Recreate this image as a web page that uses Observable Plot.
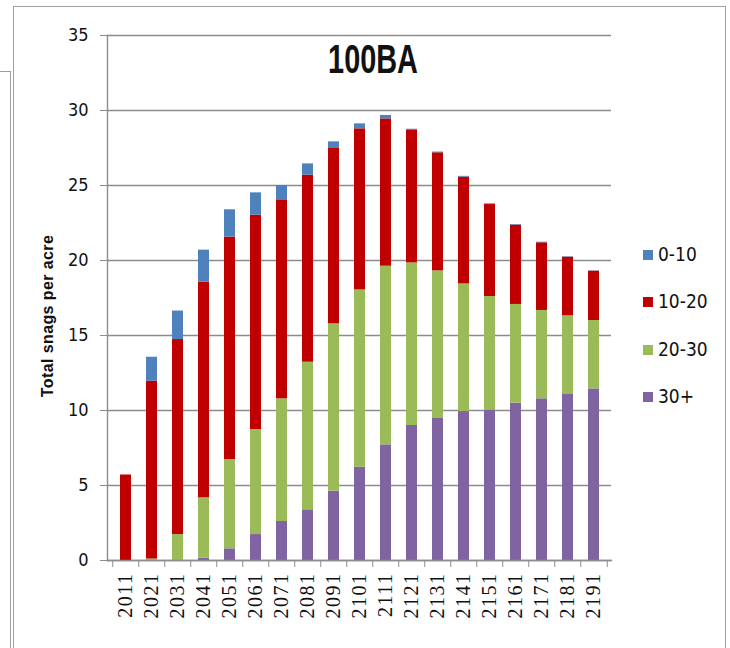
<!DOCTYPE html>
<html><head><meta charset="utf-8">
<script src="https://cdn.jsdelivr.net/npm/d3@7"></script>
<script src="https://cdn.jsdelivr.net/npm/@observablehq/plot@0.6"></script>
<style>
body{margin:0;background:#fff;}
#wrap{position:relative;width:730px;height:648px;overflow:hidden;background:#fff;}
#chart{position:absolute;left:0;top:0;}
.frame{position:absolute;border:1.5px solid #a0a0a0;}
#title{position:absolute;left:273px;width:200px;top:40px;text-align:center;font-family:"Liberation Sans",Arial,sans-serif;font-weight:bold;font-size:37px;line-height:40px;transform:scale(0.78,1.12);color:#111;}
#ytitle{position:absolute;left:48px;top:316px;transform:translate(-50%,-50%) rotate(-90deg);white-space:nowrap;font-family:"Liberation Sans",Arial,sans-serif;font-weight:bold;font-size:16px;letter-spacing:0.4px;color:#111;}
#legend{position:absolute;left:643px;top:0;}
.li{position:absolute;left:0;white-space:nowrap;font-family:"DejaVu Sans Condensed","Liberation Sans",sans-serif;font-size:19px;color:#111;}
.sw{display:inline-block;width:10px;height:10px;margin-right:5px;vertical-align:middle;position:relative;top:-1px;}
#chart g[aria-label="x-axis tick label"] text{font-family:"Liberation Serif","Times New Roman",serif;font-size:20px;letter-spacing:1.5px;fill:#111;}
#chart g[aria-label="y-axis tick label"] text{font-family:"DejaVu Sans Condensed","Liberation Sans",sans-serif;font-size:18px;fill:#111;}
</style></head><body>
<div id="wrap">
  <div class="frame" style="left:13px;top:6px;width:711px;height:700px;"></div>
  <div class="frame" style="left:-5px;top:71px;width:14px;height:700px;"></div>
  <div id="chart"></div>
  <div id="title">100BA</div>
  <div id="ytitle">Total snags per acre</div>
  <div id="legend"></div>
</div>
<script>
const years = [2011,2021,2031,2041,2051,2061,2071,2081,2091,2101,2111,2121,2131,2141,2151,2161,2171,2181,2191];
const s30plus = [0,0,0,0.15,0.78,1.73,2.6,3.38,4.62,6.22,7.71,9.0,9.51,9.93,10.04,10.49,10.78,11.11,11.44];
const s20to30 = [0,0.1,1.73,4.03,5.95,7.0,8.18,9.84,11.16,11.82,11.91,10.84,9.8,8.51,7.56,6.58,5.89,5.2,4.56];
const s10to20 = [5.7,11.85,13.0,14.38,14.83,14.29,13.22,12.47,11.73,10.74,9.82,8.83,7.87,7.12,6.13,5.29,4.51,3.91,3.29];
const s0to10 = [0,1.6,1.9,2.13,1.82,1.49,1.0,0.75,0.4,0.33,0.23,0.08,0.05,0.05,0.05,0.04,0.04,0.03,0.02];
const seriesNames = ["30+","20-30","10-20","0-10"];
const seriesColors = ["#8064A2","#9BBB59","#C00000","#4F81BD"];
const legendOrder = ["0-10","10-20","20-30","30+"];
const yTicks = [0,5,10,15,20,25,30,35];

const seriesValues = [s30plus, s20to30, s10to20, s0to10];
const xDomain = years.map(String);
const rows = [];
seriesNames.forEach((name, si) => {
  years.forEach((yr, i) => rows.push({year: String(yr), series: name, value: seriesValues[si][i]}));
});

const W = 730, H = 648, mL = 107, mR = 119, mT = 35, mB = 88;
const step = (W - mL - mR) / years.length;
const gray = "#8c8c8c";

const chart = Plot.plot({
  width: W, height: H,
  marginLeft: mL, marginRight: mR, marginTop: mT, marginBottom: mB,
  style: {background: "transparent", overflow: "visible"},
  x: {type: "band", domain: xDomain, paddingInner: 0.58, paddingOuter: 0.29, label: null},
  y: {domain: [0, 35], label: null},
  color: {domain: seriesNames, range: seriesColors},
  marks: [
    Plot.gridY(yTicks, {stroke: gray, strokeOpacity: 1, strokeWidth: 1.4}),
    Plot.axisY(yTicks, {tickSize: 7, tickPadding: 12, stroke: gray, strokeOpacity: 1, label: null}),
    Plot.barY(rows, {x: "year", y: "value", fill: "series"}),
    Plot.frame({anchor: "left", stroke: gray, strokeWidth: 1.4}),
    Plot.frame({anchor: "bottom", stroke: gray, strokeWidth: 1.4}),
    Plot.axisX(xDomain, {tickSize: 7, tickFormat: () => "", dx: -step / 2, stroke: gray, strokeOpacity: 1, label: null}),
    Plot.axisX([xDomain[xDomain.length - 1]], {tickSize: 7, tickFormat: () => "", dx: step / 2, stroke: gray, strokeOpacity: 1, label: null}),
    Plot.axisX(xDomain, {tickSize: 0, tickPadding: 12, tickRotate: -90, label: null})
  ]
});
document.getElementById("chart").appendChild(chart);

const legend = document.getElementById("legend");
const legendTops = [243, 290, 338, 385];
legendOrder.forEach((name, i) => {
  const div = document.createElement("div");
  div.className = "li";
  div.style.top = legendTops[i] + "px";
  const sw = document.createElement("span");
  sw.className = "sw";
  sw.style.background = seriesColors[seriesNames.indexOf(name)];
  div.appendChild(sw);
  div.appendChild(document.createTextNode(name));
  legend.appendChild(div);
});
</script>
</body></html>
